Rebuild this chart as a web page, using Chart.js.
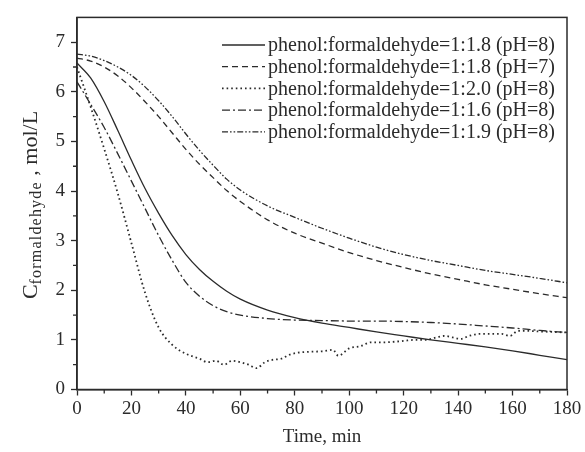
<!DOCTYPE html>
<html>
<head>
<meta charset="utf-8">
<script src="https://cdn.jsdelivr.net/npm/chart.js@4"></script>
<style>
html,body{margin:0;padding:0;background:#fff;}
canvas{display:block;}
</style>
</head>
<body>
<canvas id="c" width="585" height="452"></canvas>
<script>
// ---- data ----
const times = [0,5,10,15,20,25,30,35,40,45,50,55,60,70,80,90,100,110,120,130,140,150,160,170,180];
const ratio18pH8 = [6.58,6.28,5.8,5.22,4.62,4.05,3.55,3.1,2.72,2.42,2.18,1.98,1.82,1.6,1.45,1.34,1.25,1.16,1.08,1.0,0.93,0.86,0.78,0.69,0.6];
const ratio18pH7 = [6.68,6.62,6.5,6.32,6.08,5.8,5.5,5.17,4.84,4.54,4.27,4.01,3.79,3.42,3.15,2.95,2.76,2.6,2.46,2.33,2.22,2.11,2.02,1.93,1.85];
const ratio16pH8 = [6.2,5.75,5.28,4.75,4.2,3.65,3.1,2.6,2.16,1.88,1.69,1.57,1.5,1.43,1.4,1.39,1.38,1.38,1.37,1.35,1.32,1.28,1.24,1.19,1.15];
const ratio19pH8 = [6.76,6.72,6.63,6.5,6.33,6.1,5.82,5.5,5.15,4.82,4.52,4.24,4.02,3.7,3.47,3.25,3.05,2.87,2.72,2.6,2.5,2.4,2.32,2.24,2.15];
const times20 = [0,5,10,15,20,25,30,35,40,45,48,51,54,57,60,63,66,69,72,75,78,81,85,90,94,96,100,104,108,112,116,120,124,128,132,135,138,141,144,148,152,156,159,162,166,170,175,180];
const ratio20pH8 = [6.5,5.7,4.85,3.95,2.95,1.95,1.25,0.9,0.72,0.62,0.55,0.58,0.5,0.58,0.55,0.5,0.43,0.55,0.6,0.62,0.7,0.74,0.76,0.77,0.8,0.68,0.83,0.87,0.95,0.95,0.96,0.98,1.0,1.0,1.05,1.08,1.05,1.02,1.08,1.12,1.12,1.12,1.08,1.18,1.18,1.17,1.16,1.15];
const seriesNames = [
  'phenol:formaldehyde=1:1.8 (pH=8)',
  'phenol:formaldehyde=1:1.8 (pH=7)',
  'phenol:formaldehyde=1:2.0 (pH=8)',
  'phenol:formaldehyde=1:1.6 (pH=8)',
  'phenol:formaldehyde=1:1.9 (pH=8)'
];
const xTicks = [0,20,40,60,80,100,120,140,160,180];
const yTicks = [0,1,2,3,4,5,6,7];

const INK = '#2b2b2b';
const FONT = '"Liberation Serif", "Times New Roman", serif';
const dashes = [[], [6,4], [1.6,3], [8,3,2,3], [6,2,1.6,2,1.6,2]];
const pairs = (xs, ys) => xs.map((x,i)=>({x, y: ys[i]}));
const seriesData = [
  pairs(times, ratio18pH8),
  pairs(times, ratio18pH7),
  pairs(times20, ratio20pH8),
  pairs(times, ratio16pH8),
  pairs(times, ratio19pH8)
];

const datasets = seriesData.map((d,i)=>({
  label: seriesNames[i],
  data: d,
  borderColor: INK,
  borderWidth: i===2 ? 1.8 : 1.3,
  borderDash: dashes[i],
  pointRadius: 0,
  fill: false,
  cubicInterpolationMode: 'monotone',
  tension: 0.4
}));

const decor = {
  id: 'decor',
  afterDraw(chart) {
    const ctx = chart.ctx;
    const a = chart.chartArea;
    const xs = chart.scales.x, ys = chart.scales.y;
    ctx.save();
    // frame
    ctx.strokeStyle = INK; ctx.lineWidth = 1.5; ctx.setLineDash([]);
    ctx.strokeRect(a.left, a.top, a.right - a.left, a.bottom - a.top);
    // minor ticks
    ctx.lineWidth = 1.3;
    ctx.beginPath();
    for (let v = 10; v < 180; v += 20) {
      const px = xs.getPixelForValue(v);
      ctx.moveTo(px, a.bottom); ctx.lineTo(px, a.bottom + 4);
    }
    for (let v = 0.5; v < 7.5; v += 1) {
      const py = ys.getPixelForValue(v);
      ctx.moveTo(a.left, py); ctx.lineTo(a.left - 4, py);
    }
    ctx.stroke();
    // legend
    ctx.font = '20px ' + FONT;
    ctx.fillStyle = INK;
    ctx.textBaseline = 'middle';
    ctx.textAlign = 'left';
    datasets.forEach((ds, i) => {
      const y = 45 + i * 21.7;
      ctx.beginPath();
      ctx.setLineDash(ds.borderDash);
      ctx.lineWidth = ds.borderWidth;
      ctx.moveTo(222, y); ctx.lineTo(265, y);
      ctx.stroke();
      ctx.setLineDash([]);
      ctx.fillText(ds.label, 268, y + 1);
    });
    // x title
    ctx.font = '19px ' + FONT;
    ctx.textAlign = 'center';
    ctx.fillText('Time, min', (a.left + a.right) / 2, 437);
    // y title with subscript
    ctx.translate(31, 205);
    ctx.rotate(-Math.PI / 2);
    const mainF = '22px ' + FONT, subF = '16px ' + FONT;
    const p1 = 'C', p2 = 'formaldehyde', p3 = ' , mol/L';
    ctx.font = mainF; const w1 = ctx.measureText(p1).width, w3 = ctx.measureText(p3).width;
    ctx.font = subF;
    ctx.letterSpacing = '1.2px';
    const w2 = ctx.measureText(p2).width;
    ctx.letterSpacing = '0px';
    let x0 = -(w1 + w2 + w3) / 2;
    ctx.textAlign = 'left';
    ctx.textBaseline = 'alphabetic';
    ctx.font = mainF; ctx.fillText(p1, x0, 6); x0 += w1;
    ctx.font = subF; ctx.letterSpacing = '1.2px'; ctx.fillText(p2, x0, 10); x0 += w2;
    ctx.letterSpacing = '0px';
    ctx.font = mainF; ctx.fillText(p3, x0, 6);
    ctx.restore();
  }
};

new Chart(document.getElementById('c'), {
  type: 'line',
  data: { datasets },
  options: {
    responsive: false,
    animation: false,
    layout: { padding: { top: 13, right: 18, left: 0, bottom: 0 } },
    plugins: { legend: { display: false }, tooltip: { enabled: false } },
    scales: {
      x: {
        type: 'linear', min: 0, max: 180,
        afterBuildTicks: s => { s.ticks = xTicks.map(v => ({ value: v })); },
        afterFit: s => { s.height = 62.5; },
        ticks: { color: INK, font: { family: FONT, size: 19 }, padding: 2, maxRotation: 0 },
        grid: { drawOnChartArea: false, drawTicks: true, tickLength: 6, tickColor: INK, tickWidth: 1.3 },
        border: { color: INK, width: 1.5 }
      },
      y: {
        type: 'linear', min: 0, max: 7.5,
        afterBuildTicks: s => { s.ticks = yTicks.map(v => ({ value: v })); },
        afterFit: s => { s.width = 77; },
        ticks: { color: INK, font: { family: FONT, size: 19 }, padding: 6 },
        grid: { drawOnChartArea: false, drawTicks: true, tickLength: 6, tickColor: INK, tickWidth: 1.3 },
        border: { color: INK, width: 1.5 }
      }
    }
  },
  plugins: [decor]
});
</script>
</body>
</html>
